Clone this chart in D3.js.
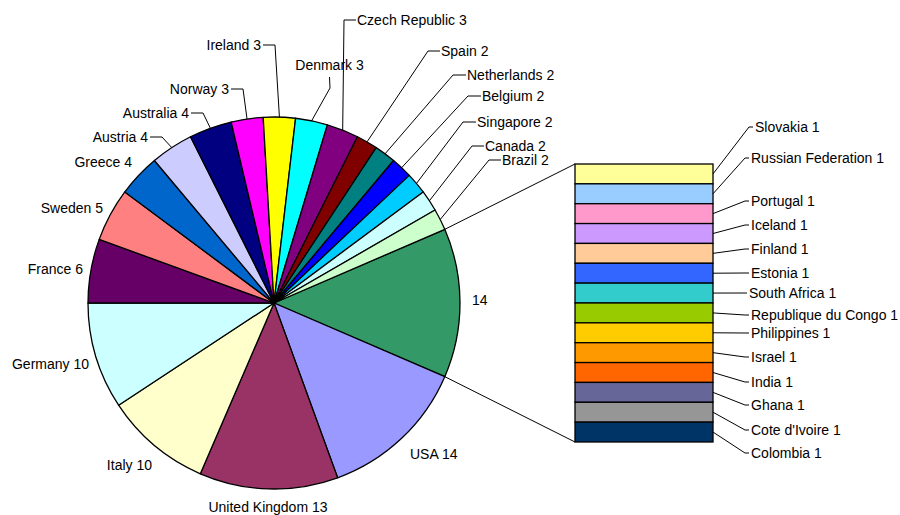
<!DOCTYPE html>
<html>
<head>
<meta charset="utf-8">
<script src="https://cdn.jsdelivr.net/npm/d3@7"></script>
<style>
  body { margin: 0; background: #fff; }
  text { font-family: 'Liberation Sans', Arial, sans-serif; font-size: 14px; fill: #000; }
</style>
</head>
<body>
<svg id="chart"></svg>
<script>
// pie slices, clockwise from the aggregated "other" slice
const pieNames = ['Other', 'USA', 'United Kingdom', 'Italy', 'Germany', 'France', 'Sweden', 'Greece',
  'Austria', 'Australia', 'Norway', 'Ireland', 'Denmark', 'Czech Republic', 'Spain', 'Netherlands',
  'Belgium', 'Singapore', 'Canada', 'Brazil'];
const pieValues = [14, 14, 13, 10, 10, 6, 5, 4, 4, 4, 3, 3, 3, 3, 2, 2, 2, 2, 2, 2];
const pieColors = ['#339966', '#9999FF', '#993366', '#FFFFCC', '#CCFFFF', '#660066', '#FF8080', '#0066CC',
  '#CCCCFF', '#000080', '#FF00FF', '#FFFF00', '#00FFFF', '#800080', '#800000', '#008080',
  '#0000FF', '#00CCFF', '#CCFFFF', '#CCFFCC'];

// the "other" slice broken out into the bar, top to bottom
const barNames = ['Slovakia', 'Russian Federation', 'Portugal', 'Iceland', 'Finland', 'Estonia',
  'South Africa', 'Republique du Congo', 'Philippines', 'Israel', 'India', 'Ghana', "Cote d'Ivoire", 'Colombia'];
const barValues = [1, 1, 1, 1, 1, 1, 1, 1, 1, 1, 1, 1, 1, 1];
const barColors = ['#FFFF99', '#99CCFF', '#FF99CC', '#CC99FF', '#FFCC99', '#3366FF', '#33CCCC',
  '#99CC00', '#FFCC00', '#FF9900', '#FF6600', '#666699', '#969696', '#003366'];

// label placement (x, y, anchor, elbow of leader line)
const pieLabelPos = [
  {x: 472, y: 300, a: 'start'},
  {x: 410, y: 454, a: 'start'},
  {x: 268, y: 507, a: 'middle'},
  {x: 152, y: 465, a: 'end'},
  {x: 89, y: 364, a: 'end'},
  {x: 83, y: 269, a: 'end'},
  {x: 103, y: 208, a: 'end'},
  {x: 132, y: 162, a: 'end'},
  {x: 148, y: 137, a: 'end', elbow: [[162, 137], [150, 137]]},
  {x: 189, y: 113, a: 'end', elbow: [[203, 113], [191, 113]]},
  {x: 229, y: 89, a: 'end', elbow: [[243, 89], [231, 89]]},
  {x: 261, y: 45, a: 'end', elbow: [[275, 45], [263, 45]]},
  {x: 329.5, y: 65, a: 'middle', elbow: [[330, 88], [329.5, 77]]},
  {x: 357, y: 20, a: 'start', elbow: [[344, 20], [356, 20]]},
  {x: 441, y: 51, a: 'start', elbow: [[428, 51], [440, 51]]},
  {x: 467, y: 75, a: 'start', elbow: [[453, 75], [466, 75]]},
  {x: 482, y: 96, a: 'start', elbow: [[468, 96], [481, 96]]},
  {x: 477, y: 122, a: 'start', elbow: [[463, 122], [476, 122]]},
  {x: 485, y: 146, a: 'start', elbow: [[472, 146], [484, 146]]},
  {x: 502, y: 160, a: 'start', elbow: [[489, 160], [501, 160]]}
];
const barLabelPos = [
  {x: 755, y: 127}, {x: 751, y: 158}, {x: 751, y: 201}, {x: 751, y: 225}, {x: 751, y: 249},
  {x: 751, y: 273}, {x: 749, y: 293}, {x: 751, y: 315}, {x: 751, y: 333}, {x: 751, y: 357},
  {x: 751, y: 382}, {x: 751, y: 405}, {x: 751, y: 430}, {x: 751, y: 453}
];

const width = 900;
const height = 515;
const pieCenter = {x: 274, y: 303};
const radius = 186;
const barBox = {left: 575, right: 713, top: 164, bottom: 442};

const svg = d3.select('#chart')
  .attr('width', width)
  .attr('height', height);

const total = d3.sum(pieValues);
// "other" slice is centred on 3 o'clock
const start = Math.PI / 2 - (pieValues[0] / total) * Math.PI;

const pie = d3.pie()
  .sort(null)
  .value(function (d) { return d; })
  .startAngle(start)
  .endAngle(start + 2 * Math.PI);

const arcs = pie(pieValues);
const arc = d3.arc().innerRadius(0).outerRadius(radius);

const edgePoint = function (a) {
  return [pieCenter.x + radius * Math.sin(a), pieCenter.y - radius * Math.cos(a)];
};

const g = svg.append('g');

// connector lines pie -> bar
const yBar = d3.scaleLinear()
  .domain([0, d3.sum(barValues)])
  .range([barBox.top, barBox.bottom]);

[[arcs[0].startAngle, 0], [arcs[0].endAngle, d3.sum(barValues)]].forEach(function (c) {
  const p = edgePoint(c[0]);
  g.append('line')
    .attr('x1', p[0]).attr('y1', p[1])
    .attr('x2', barBox.left).attr('y2', yBar(c[1]))
    .attr('stroke', '#000')
    .attr('stroke-width', 1);
});

g.selectAll('path.slice')
  .data(arcs)
  .enter()
  .append('path')
  .attr('class', 'slice')
  .attr('transform', 'translate(' + pieCenter.x + ',' + pieCenter.y + ')')
  .attr('d', arc)
  .attr('fill', function (d, i) { return pieColors[i]; })
  .attr('stroke', '#000')
  .attr('stroke-width', 1.3)
  .attr('stroke-linejoin', 'round');

// pie leader lines
arcs.forEach(function (d, i) {
  const lp = pieLabelPos[i];
  if (!lp.elbow) return;
  const mid = (d.startAngle + d.endAngle) / 2;
  const pts = [edgePoint(mid)].concat(lp.elbow);
  g.append('path')
    .attr('d', d3.line()(pts))
    .attr('fill', 'none')
    .attr('stroke', '#000')
    .attr('stroke-width', 1);
});

g.selectAll('text.pie-label')
  .data(arcs)
  .enter()
  .append('text')
  .attr('class', 'pie-label')
  .attr('x', function (d, i) { return pieLabelPos[i].x; })
  .attr('y', function (d, i) { return pieLabelPos[i].y; })
  .attr('dy', '0.35em')
  .attr('text-anchor', function (d, i) { return pieLabelPos[i].a; })
  .text(function (d, i) {
    return i === 0 ? String(pieValues[i]) : pieNames[i] + ' ' + pieValues[i];
  });

// stacked bar
const barStack = [];
let acc = 0;
barValues.forEach(function (v, i) {
  barStack.push({name: barNames[i], value: v, y0: acc, y1: acc + v, i: i});
  acc += v;
});

g.selectAll('rect.seg')
  .data(barStack)
  .enter()
  .append('rect')
  .attr('class', 'seg')
  .attr('x', barBox.left)
  .attr('width', barBox.right - barBox.left)
  .attr('y', function (d) { return yBar(d.y0); })
  .attr('height', function (d) { return yBar(d.y1) - yBar(d.y0); })
  .attr('fill', function (d) { return barColors[d.i]; })
  .attr('stroke', '#000')
  .attr('stroke-width', 1.3);

g.selectAll('path.bar-leader')
  .data(barStack)
  .enter()
  .append('path')
  .attr('class', 'bar-leader')
  .attr('d', function (d) {
    const lp = barLabelPos[d.i];
    const yc = (yBar(d.y0) + yBar(d.y1)) / 2;
    return d3.line()([[barBox.right, yc], [lp.x - 6, lp.y], [lp.x - 2, lp.y]]);
  })
  .attr('fill', 'none')
  .attr('stroke', '#000')
  .attr('stroke-width', 1);

g.selectAll('text.bar-label')
  .data(barStack)
  .enter()
  .append('text')
  .attr('class', 'bar-label')
  .attr('x', function (d) { return barLabelPos[d.i].x; })
  .attr('y', function (d) { return barLabelPos[d.i].y; })
  .attr('dy', '0.35em')
  .text(function (d) { return d.name + ' ' + d.value; });
</script>
</body>
</html>
